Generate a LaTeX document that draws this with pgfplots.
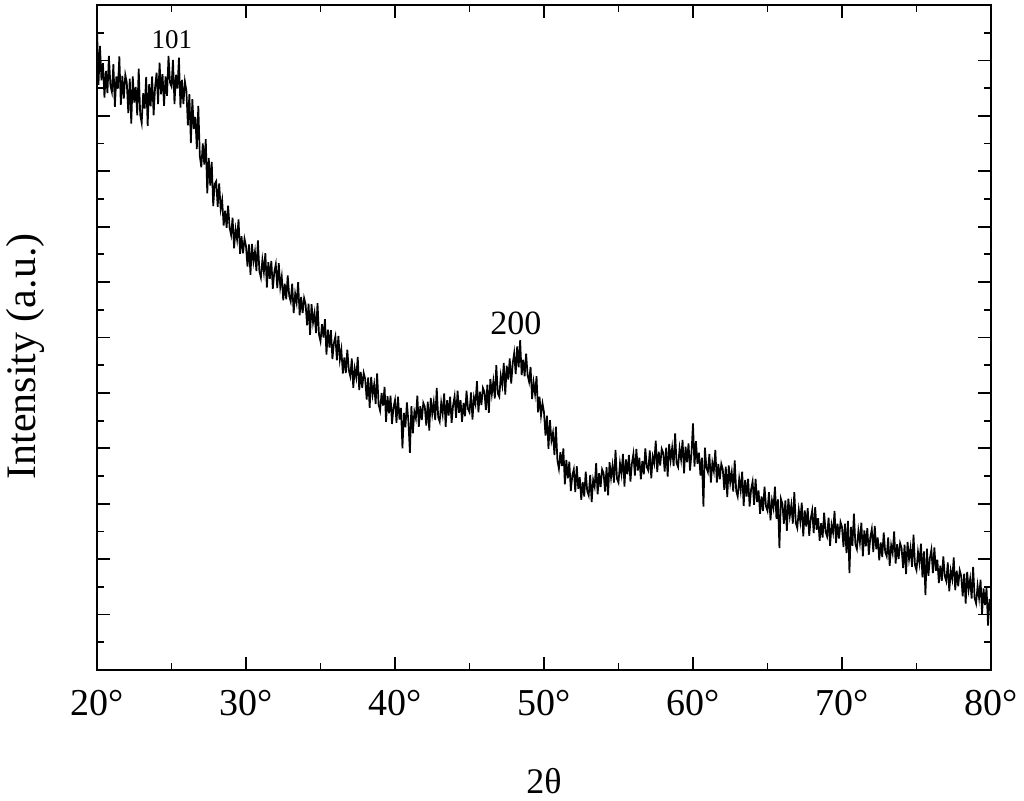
\documentclass[border=0pt]{standalone}
\usepackage{fontspec}
\setmainfont{Liberation Serif}
\usepackage{pgfplots}
\pgfplotsset{compat=1.18}

\begin{document}
\begin{tikzpicture}
% frame of the whole picture: 1px = 0.5pt
\useasboundingbox (-48.5pt,-65.5pt) rectangle (463.5pt,335pt);
\begin{axis}[
    scale only axis,
    width=447pt, height=332.5pt,
    xmin=20, xmax=80, ymin=0, ymax=12,
    xtick={20,30,...,80},
    xticklabels={20°,30°,40°,50°,60°,70°,80°},
    minor x tick num=1,
    ytick={0,1,...,12},
    yticklabel=\empty,
    minor y tick num=1,
    tick align=inside,
    major tick length=6.5pt,
    minor tick length=3.5pt,
    axis line style={line width=0.9pt},
    tick style={line width=0.9pt, black},
    xticklabel style={font=\fontsize{19}{22}\selectfont, anchor=base, yshift=-22.75pt},
    xlabel={2θ},
    xlabel style={font=\fontsize{18}{21}\selectfont, at={(axis description cs:0.5,-0.167)}, anchor=center},
    ylabel={Intensity (a.u.)},
    ylabel style={font=\fontsize{21}{24}\selectfont, at={(axis description cs:-0.0805,0.4714)}, anchor=center},
]
\addplot[black, line width=0.85pt, line join=miter] coordinates {
(20.0,11.60) (20.1,10.56) (20.2,11.26) (20.3,10.64) (20.4,10.95) (20.5,10.33) (20.6,10.81) (20.7,10.41) (20.8,11.08) (20.9,10.55)
(21.0,10.43) (21.1,10.93) (21.2,10.16) (21.3,10.71) (21.4,10.49) (21.5,11.07) (21.6,10.20) (21.7,10.72) (21.8,10.31) (21.9,10.74)
(22.0,10.60) (22.1,10.05) (22.2,10.67) (22.3,9.86) (22.4,10.71) (22.5,10.24) (22.6,10.52) (22.7,10.01) (22.8,10.85) (22.9,10.02)
(23.0,9.87) (23.1,10.41) (23.2,10.13) (23.3,10.70) (23.4,9.82) (23.5,10.57) (23.6,10.17) (23.7,10.71) (23.8,10.01) (23.9,10.52)
(24.0,10.78) (24.1,10.21) (24.2,10.96) (24.3,10.39) (24.4,10.75) (24.5,10.18) (24.6,10.71) (24.7,10.36) (24.8,11.08) (24.9,10.60)
(25.0,10.53) (25.1,11.01) (25.2,10.21) (25.3,10.74) (25.4,10.49) (25.5,11.05) (25.6,10.15) (25.7,10.65) (25.8,10.21) (25.9,10.62)
(26.0,10.45) (26.1,9.83) (26.2,10.39) (26.3,9.51) (26.4,10.30) (26.5,9.76) (26.6,9.98) (26.7,9.40) (26.8,10.18) (26.9,9.28)
(27.0,9.07) (27.1,9.50) (27.2,9.12) (27.3,9.58) (27.4,8.60) (27.5,9.24) (27.6,8.74) (27.7,9.17) (27.8,8.37) (27.9,8.77)
(28.0,8.82) (28.1,8.36) (28.2,8.78) (28.3,8.32) (28.4,8.48) (28.5,8.02) (28.6,8.29) (28.7,7.98) (28.8,8.38) (28.9,7.98)
(29.0,7.85) (29.1,8.16) (29.2,7.61) (29.3,7.95) (29.4,7.77) (29.5,8.13) (29.6,7.51) (29.7,7.83) (29.8,7.52) (29.9,7.78)
(30.0,7.65) (30.1,7.28) (30.2,7.68) (30.3,7.13) (30.4,7.69) (30.5,7.37) (30.6,7.55) (30.7,7.20) (30.8,7.75) (30.9,7.19)
(31.0,7.08) (31.1,7.40) (31.2,7.18) (31.3,7.52) (31.4,6.90) (31.5,7.36) (31.6,7.06) (31.7,7.38) (31.8,6.88) (31.9,7.18)
(32.0,7.32) (32.1,6.89) (32.2,7.34) (32.3,6.91) (32.4,7.10) (32.5,6.67) (32.6,6.97) (32.7,6.69) (32.8,7.12) (32.9,6.75)
(33.0,6.65) (33.1,6.97) (33.2,6.44) (33.3,6.79) (33.4,6.63) (33.5,7.00) (33.6,6.40) (33.7,6.73) (33.8,6.44) (33.9,6.71)
(34.0,6.60) (34.1,6.22) (34.2,6.61) (34.3,6.05) (34.4,6.60) (34.5,6.27) (34.6,6.44) (34.7,6.08) (34.8,6.62) (34.9,6.05)
(35.0,5.93) (35.1,6.24) (35.2,6.00) (35.3,6.33) (35.4,5.69) (35.5,6.14) (35.6,5.82) (35.7,6.13) (35.8,5.61) (35.9,5.90)
(36.0,6.02) (36.1,5.59) (36.2,6.03) (36.3,5.60) (36.4,5.78) (36.5,5.35) (36.6,5.64) (36.7,5.36) (36.8,5.78) (36.9,5.41)
(37.0,5.30) (37.1,5.62) (37.2,5.09) (37.3,5.44) (37.4,5.28) (37.5,5.65) (37.6,5.05) (37.7,5.38) (37.8,5.09) (37.9,5.36)
(38.0,5.25) (38.1,4.88) (38.2,5.28) (38.3,4.73) (38.4,5.29) (38.5,4.97) (38.6,5.15) (38.7,4.80) (38.8,5.35) (38.9,4.79)
(39.0,4.68) (39.1,5.00) (39.2,4.77) (39.3,5.11) (39.4,4.48) (39.5,4.94) (39.6,4.63) (39.7,4.95) (39.8,4.44) (39.9,4.74)
(40.0,4.87) (40.1,4.46) (40.2,4.93) (40.3,4.52) (40.4,4.73) (40.5,4.00) (40.6,4.64) (40.7,4.38) (40.8,4.83) (40.9,4.48)
(41.0,3.92) (41.1,4.76) (41.2,4.27) (41.3,4.66) (41.4,4.54) (41.5,4.95) (41.6,4.39) (41.7,4.76) (41.8,4.51) (41.9,4.82)
(42.0,4.75) (42.1,4.41) (42.2,4.84) (42.3,4.32) (42.4,4.91) (42.5,4.62) (42.6,4.83) (42.7,4.51) (42.8,5.09) (42.9,4.56)
(43.0,4.48) (43.1,4.82) (43.2,4.62) (43.3,4.99) (43.4,4.39) (43.5,4.87) (43.6,4.59) (43.7,4.93) (43.8,4.46) (43.9,4.78)
(44.0,4.94) (44.1,4.55) (44.2,5.04) (44.3,4.64) (44.4,4.87) (44.5,4.48) (44.6,4.82) (44.7,4.58) (44.8,5.04) (44.9,4.71)
(45.0,4.65) (45.1,5.01) (45.2,4.52) (45.3,4.92) (45.4,4.80) (45.5,5.21) (45.6,4.65) (45.7,5.02) (45.8,4.78) (45.9,5.09)
(46.0,5.02) (46.1,4.69) (46.2,5.15) (46.3,4.64) (46.4,5.25) (46.5,4.98) (46.6,5.21) (46.7,4.90) (46.8,5.50) (46.9,4.99)
(47.0,4.93) (47.1,5.31) (47.2,5.14) (47.3,5.54) (47.4,4.97) (47.5,5.49) (47.6,5.24) (47.7,5.62) (47.8,5.17) (47.9,5.53)
(48.0,5.72) (48.1,5.34) (48.2,5.84) (48.3,5.46) (48.4,5.95) (48.5,5.32) (48.6,5.60) (48.7,5.30) (48.8,5.71) (48.9,5.32)
(49.0,5.20) (49.1,5.47) (49.2,4.89) (49.3,5.19) (49.4,4.98) (49.5,5.30) (49.6,4.65) (49.7,4.93) (49.8,4.59) (49.9,4.81)
(50.0,4.65) (50.1,4.23) (50.2,4.59) (50.3,3.99) (50.4,4.51) (50.5,4.14) (50.6,4.28) (50.7,3.88) (50.8,4.39) (50.9,3.78)
(51.0,3.63) (51.1,3.93) (51.2,3.68) (51.3,4.00) (51.4,3.35) (51.5,3.79) (51.6,3.46) (51.7,3.76) (51.8,3.23) (51.9,3.51)
(52.0,3.62) (52.1,3.21) (52.2,3.68) (52.3,3.27) (52.4,3.48) (52.5,3.07) (52.6,3.39) (52.7,3.13) (52.8,3.58) (52.9,3.23)
(53.0,3.15) (53.1,3.52) (53.2,3.03) (53.3,3.43) (53.4,3.31) (53.5,3.73) (53.6,3.17) (53.7,3.55) (53.8,3.30) (53.9,3.62)
(54.0,3.55) (54.1,3.22) (54.2,3.66) (54.3,3.15) (54.4,3.75) (54.5,3.47) (54.6,3.69) (54.7,3.38) (54.8,3.97) (54.9,3.45)
(55.0,3.38) (55.1,3.73) (55.2,3.54) (55.3,3.90) (55.4,3.31) (55.5,3.80) (55.6,3.53) (55.7,3.88) (55.8,3.40) (55.9,3.73)
(56.0,3.90) (56.1,3.51) (56.2,3.99) (56.3,3.60) (56.4,3.83) (56.5,3.44) (56.6,3.77) (56.7,3.53) (56.8,4.00) (56.9,3.66)
(57.0,3.60) (57.1,3.96) (57.2,3.46) (57.3,3.85) (57.4,3.73) (57.5,4.14) (57.6,3.57) (57.7,3.94) (57.8,3.69) (57.9,3.99)
(58.0,3.92) (58.1,3.58) (58.2,4.01) (58.3,3.49) (58.4,4.08) (58.5,3.79) (58.6,4.01) (58.7,3.68) (58.8,4.27) (58.9,3.73)
(59.0,3.66) (59.1,4.00) (59.2,3.80) (59.3,4.15) (59.4,3.55) (59.5,4.03) (59.6,3.75) (59.7,4.09) (59.8,3.60) (59.9,3.92)
(60.0,4.45) (60.1,3.67) (60.2,4.13) (60.3,3.72) (60.4,3.92) (60.5,3.51) (60.6,3.83) (60.7,2.95) (60.8,4.01) (60.9,3.65)
(61.0,3.57) (61.1,3.90) (61.2,3.38) (61.3,3.74) (61.4,3.59) (61.5,3.97) (61.6,3.38) (61.7,3.72) (61.8,3.44) (61.9,3.72)
(62.0,3.62) (62.1,3.25) (62.2,3.67) (62.3,3.12) (62.4,3.69) (62.5,3.38) (62.6,3.57) (62.7,3.22) (62.8,3.78) (62.9,3.23)
(63.0,3.13) (63.1,3.45) (63.2,3.24) (63.3,3.58) (63.4,2.96) (63.5,3.43) (63.6,3.13) (63.7,3.45) (63.8,2.95) (63.9,3.26)
(64.0,3.40) (64.1,2.98) (64.2,3.45) (64.3,3.03) (64.4,3.24) (64.5,2.82) (64.6,3.13) (64.7,2.87) (64.8,3.31) (64.9,2.95)
(65.0,2.87) (65.1,3.21) (65.2,2.70) (65.3,3.06) (65.4,2.92) (65.5,3.31) (65.6,2.73) (65.7,3.08) (65.8,2.20) (65.9,3.09)
(66.0,3.00) (66.1,2.64) (66.2,3.06) (66.3,2.51) (66.4,3.09) (66.5,2.78) (66.6,2.98) (66.7,2.64) (66.8,3.21) (66.9,2.65)
(67.0,2.56) (67.1,2.89) (67.2,2.68) (67.3,3.02) (67.4,2.41) (67.5,2.88) (67.6,2.59) (67.7,2.92) (67.8,2.42) (67.9,2.73)
(68.0,2.88) (68.1,2.47) (68.2,2.94) (68.3,2.53) (68.4,2.74) (68.5,2.33) (68.6,2.65) (68.7,2.39) (68.8,2.84) (68.9,2.49)
(69.0,2.41) (69.1,2.75) (69.2,2.24) (69.3,2.62) (69.4,2.48) (69.5,2.87) (69.6,2.29) (69.7,2.64) (69.8,2.37) (69.9,2.67)
(70.0,2.58) (70.1,2.22) (70.2,2.64) (70.3,2.11) (70.4,2.69) (70.5,1.75) (70.6,2.58) (70.7,2.24) (70.8,2.82) (70.9,2.27)
(71.0,2.18) (71.1,2.51) (71.2,2.30) (71.3,2.66) (71.4,2.05) (71.5,2.52) (71.6,2.23) (71.7,2.56) (71.8,2.08) (71.9,2.39)
(72.0,2.54) (72.1,2.13) (72.2,2.60) (72.3,2.18) (72.4,2.39) (72.5,1.98) (72.6,2.30) (72.7,2.04) (72.8,2.48) (72.9,2.13)
(73.0,2.05) (73.1,2.39) (73.2,1.88) (73.3,2.25) (73.4,2.11) (73.5,2.50) (73.6,1.92) (73.7,2.27) (73.8,2.00) (73.9,2.29)
(74.0,2.20) (74.1,1.84) (74.2,2.26) (74.3,1.73) (74.4,2.31) (74.5,2.00) (74.6,2.20) (74.7,1.86) (74.8,2.44) (74.9,1.89)
(75.0,1.80) (75.1,2.13) (75.2,1.93) (75.3,2.28) (75.4,1.67) (75.5,2.14) (75.6,1.35) (75.7,2.19) (75.8,1.70) (75.9,2.02)
(76.0,2.17) (76.1,1.75) (76.2,2.21) (76.3,1.79) (76.4,1.99) (76.5,1.57) (76.6,1.88) (76.7,1.61) (76.8,2.05) (76.9,1.69)
(77.0,1.60) (77.1,1.94) (77.2,1.42) (77.3,1.79) (77.4,1.64) (77.5,2.03) (77.6,1.44) (77.7,1.79) (77.8,1.51) (77.9,1.80)
(78.0,1.70) (78.1,1.33) (78.2,1.74) (78.3,1.20) (78.4,1.77) (78.5,1.45) (78.6,1.64) (78.7,1.29) (78.8,1.86) (78.9,1.30)
(79.0,1.20) (79.1,1.52) (79.2,1.30) (79.3,1.63) (79.4,1.01) (79.5,1.47) (79.6,1.17) (79.7,1.49) (79.8,0.80) (79.9,1.28)
(80.0,1.05)
};
\node[font=\fontsize{13.5}{15}\selectfont, anchor=center] at (axis cs:25.03,11.37) {101};
\node[font=\fontsize{17}{19}\selectfont, anchor=center] at (axis cs:48.12,6.26) {200};
\end{axis}
\end{tikzpicture}
\end{document}
